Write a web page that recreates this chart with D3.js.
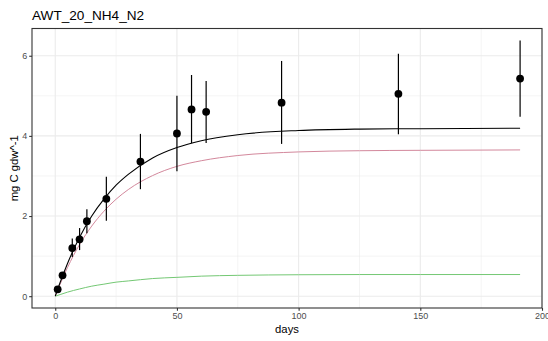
<!DOCTYPE html>
<html><head><meta charset="utf-8">
<script src="https://cdn.jsdelivr.net/npm/d3@7"></script>
<style>body{margin:0;background:#fff}svg{display:block;font-family:"Liberation Sans",Arial,sans-serif}</style>
</head><body><svg id="c" width="548" height="341"></svg>
<script>
// observed data
const obsDays  = [1, 3, 7, 10, 13, 21, 35, 50, 56, 62, 93, 141, 191];
const obsMean  = [0.17, 0.52, 1.20, 1.42, 1.87, 2.43, 3.36, 4.06, 4.66, 4.60, 4.83, 5.05, 5.43];
const obsLow   = [0.10, 0.45, 0.98, 1.15, 1.57, 1.88, 2.67, 3.12, 3.82, 3.82, 3.80, 4.04, 4.48];
const obsHigh  = [0.24, 0.60, 1.44, 1.70, 2.17, 2.98, 4.05, 5.00, 5.52, 5.37, 5.87, 6.05, 6.38];
// fitted curves
const curveDays  = [0, 2, 5, 10, 15, 20, 25, 30, 40, 50, 60, 75, 100, 125, 150, 191];
const totalCurve = [0, 0.34, 0.81, 1.47, 2.00, 2.42, 2.77, 3.04, 3.45, 3.71, 3.88, 4.03, 4.135, 4.17, 4.18, 4.19];
const pool1Curve = [0, 0.30, 0.71, 1.29, 1.75, 2.12, 2.42, 2.66, 3.01, 3.24, 3.38, 3.51, 3.60, 3.63, 3.64, 3.65];
const pool2Curve = [0, 0.04, 0.10, 0.18, 0.25, 0.30, 0.35, 0.38, 0.44, 0.47, 0.50, 0.52, 0.535, 0.54, 0.54, 0.54];
const xTicks = [0, 50, 100, 150, 200];
const yTicks = [0, 2, 4, 6];
const xMinor = [25, 75, 125, 175];
const yMinor = [1, 3, 5];

const svg = d3.select("#c");
const P = {l: 32, r: 542, t: 28.5, b: 308};
const x = d3.scaleLinear().domain([-9.55, 200.0]).range([P.l, P.r]);
const y = d3.scaleLinear().domain([-0.295, 6.68]).range([P.b, P.t]);

const g = svg.append("g");
// minor grid
g.selectAll(".xm").data(xMinor).join("line").attr("x1", d=>x(d)).attr("x2", d=>x(d))
  .attr("y1", P.t).attr("y2", P.b).attr("stroke", "#ebebeb").attr("stroke-width", 0.55);
g.selectAll(".ym").data(yMinor).join("line").attr("y1", d=>y(d)).attr("y2", d=>y(d))
  .attr("x1", P.l).attr("x2", P.r).attr("stroke", "#ebebeb").attr("stroke-width", 0.55);
// major grid
g.selectAll(".xg").data(xTicks).join("line").attr("x1", d=>x(d)).attr("x2", d=>x(d))
  .attr("y1", P.t).attr("y2", P.b).attr("stroke", "#ebebeb").attr("stroke-width", 1.1);
g.selectAll(".yg").data(yTicks).join("line").attr("y1", d=>y(d)).attr("y2", d=>y(d))
  .attr("x1", P.l).attr("x2", P.r).attr("stroke", "#ebebeb").attr("stroke-width", 1.1);

const line = arr => d3.line().x((d,i)=>x(curveDays[i])).y(d=>y(d)).curve(d3.curveMonotoneX)(arr);
g.append("path").attr("d", line(pool2Curve)).attr("fill","none").attr("stroke","#74c874").attr("stroke-width",1);
g.append("path").attr("d", line(pool1Curve)).attr("fill","none").attr("stroke","#d3889c").attr("stroke-width",1);
g.append("path").attr("d", line(totalCurve)).attr("fill","none").attr("stroke","#000").attr("stroke-width",1.1);

// error bars
g.selectAll(".eb").data(obsDays).join("line")
  .attr("x1", d=>x(d)).attr("x2", d=>x(d))
  .attr("y1", (d,i)=>y(obsLow[i])).attr("y2", (d,i)=>y(obsHigh[i]))
  .attr("stroke", "#000").attr("stroke-width", 1.2);
g.selectAll(".pt").data(obsDays).join("circle")
  .attr("cx", d=>x(d)).attr("cy", (d,i)=>y(obsMean[i])).attr("r", 3.9).attr("fill", "#000");

// panel border
g.append("rect").attr("x", P.l).attr("y", P.t).attr("width", P.r-P.l).attr("height", P.b-P.t)
  .attr("fill","none").attr("stroke","#333").attr("stroke-width",1.1);

// axes
const xa = svg.append("g").attr("transform", `translate(0,${P.b})`)
  .call(d3.axisBottom(x).tickValues(xTicks).tickSize(2.8).tickPadding(2).tickFormat(d3.format("d")));
const ya = svg.append("g").attr("transform", `translate(${P.l},0)`)
  .call(d3.axisLeft(y).tickValues(yTicks).tickSize(2.8).tickPadding(2).tickFormat(d3.format("d")));
[xa, ya].forEach(a => {
  a.select(".domain").remove();
  a.selectAll(".tick line").attr("stroke", "#333").attr("stroke-width", 1.1);
  a.selectAll(".tick text").attr("fill", "#4d4d4d").style("font-size", "9px")
    .style("font-family", '"Liberation Sans",Arial,sans-serif');
});

svg.append("text").attr("x", 32).attr("y", 19.5).text("AWT_20_NH4_N2")
  .style("font-size", "13.6px").attr("fill", "#000");
svg.append("text").attr("x", (P.l+P.r)/2).attr("y", 333).attr("text-anchor","middle")
  .text("days").style("font-size", "11.3px");
svg.append("text").attr("transform", `translate(18,${(P.t+P.b)/2}) rotate(-90)`)
  .attr("text-anchor","middle").text("mg C gdw^-1").style("font-size", "11.3px");
</script></body></html>
